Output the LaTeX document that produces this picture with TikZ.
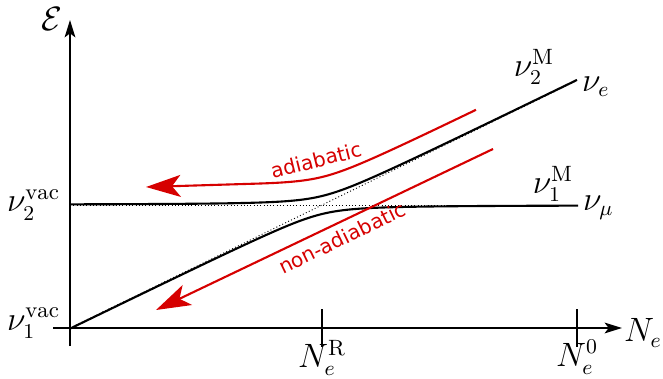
\documentclass[tikz,border=0pt]{standalone}
\usepackage{amsmath,amssymb}
\usepackage{fontspec}
\usepackage{tikz}
\usetikzlibrary{arrows.meta,positioning}
\newfontfamily\flowfont{DejaVu Sans}
\definecolor{flowred}{RGB}{214,0,0}

\begin{document}
\begin{tikzpicture}[
x=0.015cm, y=-0.015cm,
axis/.style={line width=0.9pt, -{Stealth[length=0.26cm, width=0.16cm, inset=0.06cm]}},
branch/.style={line width=0.9pt},
level/.style={line width=0.4pt, densely dotted},
flow/.style={line width=0.9pt, flowred, -{Stealth[length=0.52cm, width=0.33cm, inset=0.13cm]}},
lbl/.style={inner sep=1pt, font=\fontsize{13.5}{16}\selectfont},
flowlbl/.style={text=flowred, inner sep=1pt, font=\flowfont\fontsize{8.6}{10}\selectfont},
declare function={diag(\x)=328-0.488*(\x-70);
  hi(\x)=0.5*(205+diag(\x))-sqrt(0.25*(205-diag(\x))*(205-diag(\x))+81);
  lo(\x)=0.5*(205+diag(\x))+sqrt(0.25*(205-diag(\x))*(205-diag(\x))+81);}
]
\useasboundingbox (0,0) rectangle (663,379);
% axes
\coordinate (O) at (70,328);
\coordinate (ybot) at (70,346);
\coordinate (ytop) at (70,20);
\coordinate (xleft) at (53,328);
\coordinate (xright) at (622,328);
\draw[axis] (ybot) -- (ytop);
\draw[axis] (xleft) -- (xright);
\node[lbl] (E) at (52,19) {$\mathcal{E}$};
\node[lbl, inner sep=0pt] (Ne) at (643,333) {$N_e$};
% ticks
\coordinate (tR) at (322,328);
\coordinate (t0) at (577,328);
\draw[line width=0.9pt] ([yshift=-8]tR) -- ([yshift=8]tR);
\draw[line width=0.9pt] ([yshift=-8]t0) -- ([yshift=8]t0);
\node[lbl, below=4pt of tR] (NR) {$N_e^{\mathrm{R}}$};
\node[lbl, below=4pt of t0] (N0) {$N_e^{0}$};
% vacuum levels
\coordinate (h0) at (70,205);
\coordinate (h1) at (578,205);
\coordinate (d1) at (577,{diag(577)});
\node[lbl, left=3pt of h0] (v2vac) {$\nu_2^{\mathrm{vac}}$};
\node[lbl, left=3pt of O, yshift=2pt] (v1vac) {$\nu_1^{\mathrm{vac}}$};
\draw[level] (h0) -- (h1);
\draw[level] (O) -- (d1);
% matter eigenstates
\draw[branch] plot[domain=70:577, samples=120] (\x,{hi(\x)});
\draw[branch] plot[domain=70:578, samples=120] (\x,{lo(\x)});
\node[lbl, right=1pt of d1, yshift=-2.5pt] (ve) {$\nu_e$};
\node[lbl, right=1pt of h1, yshift=-1pt] (vmu) {$\nu_\mu$};
\node[lbl] (v2M) at (534,67) {$\nu_2^{\mathrm{M}}$};
\node[lbl] (v1M) at (553,184) {$\nu_1^{\mathrm{M}}$};
% transitions
\coordinate (adtip) at (146,187);
\draw[flow] plot[domain=476:250, samples=60] (\x,{hi(\x)-19}) -- (adtip);
\coordinate (nastart) at (493,149);
\coordinate (natip) at (156,310);
\draw[flow] (nastart) -- (natip);
\node[flowlbl, rotate=14] (adlbl) at (316,160) {adiabatic};
\node[flowlbl, rotate=26] (nalbl) at (342,238) {non-adiabatic};
\end{tikzpicture}
\end{document}
